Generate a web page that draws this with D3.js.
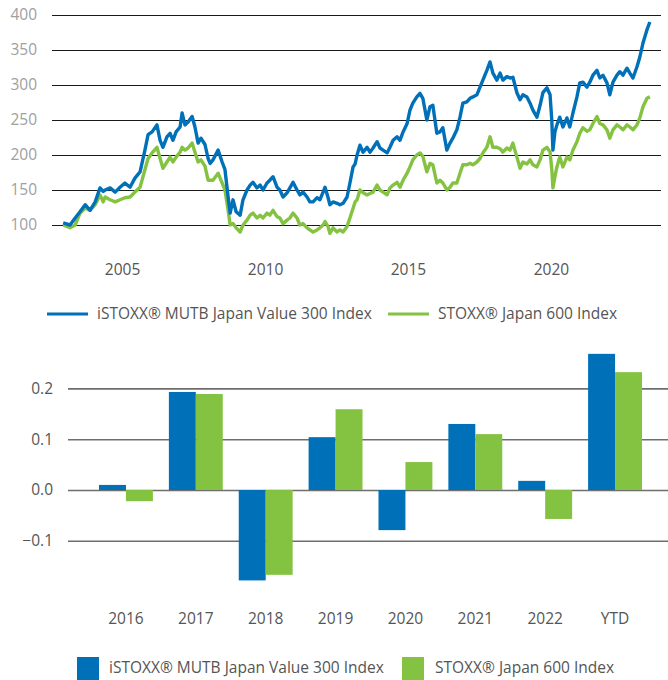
<!DOCTYPE html>
<html>
<head>
<meta charset="utf-8">
<script src="https://cdn.jsdelivr.net/npm/d3@7"></script>
<style>
  body { margin: 0; background: #fff; }
  text { font-family: "Open Sans", sans-serif; }
</style>
</head>
<body>
<div id="chart"></div>
<script>
// names + colours of the two indices
const seriesNames = ["iSTOXX® MUTB Japan Value 300 Index", "STOXX® Japan 600 Index"];
const seriesColors = ["#0070b8", "#84c341"];

// index levels (x = decimal year)
const years = [2002.94, 2003.18, 2003.36, 2003.53, 2003.71, 2003.88, 2004.06, 2004.23, 2004.34, 2004.41,
  2004.58, 2004.76, 2004.93, 2005.10, 2005.28, 2005.45, 2005.63, 2005.80, 2005.91, 2006.05,
  2006.22, 2006.33, 2006.43, 2006.57, 2006.68, 2006.78, 2006.89, 2007.03, 2007.10, 2007.20,
  2007.31, 2007.45, 2007.55, 2007.66, 2007.76, 2007.90, 2008.01, 2008.08, 2008.18, 2008.36,
  2008.50, 2008.60, 2008.71, 2008.78, 2008.88, 2008.99, 2009.13, 2009.23, 2009.37, 2009.48,
  2009.58, 2009.72, 2009.83, 2009.93, 2010.07, 2010.17, 2010.28, 2010.42, 2010.52, 2010.63,
  2010.77, 2010.87, 2010.98, 2011.12, 2011.22, 2011.33, 2011.47, 2011.57, 2011.68, 2011.82,
  2011.92, 2012.03, 2012.10, 2012.20, 2012.27, 2012.38, 2012.52, 2012.62, 2012.73, 2012.87,
  2012.97, 2013.08, 2013.15, 2013.22, 2013.32, 2013.43, 2013.57, 2013.67, 2013.78, 2013.92,
  2014.02, 2014.13, 2014.27, 2014.37, 2014.48, 2014.62, 2014.72, 2014.83, 2014.97, 2015.07,
  2015.17, 2015.31, 2015.42, 2015.52, 2015.66, 2015.77, 2015.87, 2016.01, 2016.12, 2016.22,
  2016.36, 2016.47, 2016.57, 2016.71, 2016.82, 2016.92, 2017.06, 2017.17, 2017.27, 2017.41,
  2017.52, 2017.62, 2017.76, 2017.87, 2017.97, 2018.11, 2018.22, 2018.32, 2018.46, 2018.57,
  2018.67, 2018.81, 2018.92, 2019.02, 2019.16, 2019.27, 2019.37, 2019.51, 2019.62, 2019.72,
  2019.86, 2019.97, 2020.03, 2020.07, 2020.14, 2020.21, 2020.31, 2020.42, 2020.56, 2020.66,
  2020.77, 2020.91, 2021.01, 2021.12, 2021.26, 2021.36, 2021.47, 2021.61, 2021.71, 2021.82,
  2021.96, 2022.06, 2022.17, 2022.31, 2022.41, 2022.52, 2022.66, 2022.76, 2022.87, 2023.01,
  2023.11, 2023.22, 2023.36, 2023.46];

const valueIndex = [103, 100, 110, 119, 129, 121, 133, 153, 148, 150,
  153, 147, 154, 160, 154, 167, 176, 207, 229, 233,
  243, 221, 211, 226, 231, 221, 233, 240, 260, 243,
  247, 255, 240, 217, 224, 215, 195, 188, 193, 207,
  190, 179, 140, 117, 136, 119, 114, 136, 150, 157,
  161, 153, 157, 150, 160, 164, 169, 154, 150, 140,
  146, 153, 161, 150, 143, 147, 140, 133, 133, 139,
  136, 147, 154, 140, 129, 133, 131, 129, 131, 140,
  160, 183, 187, 200, 214, 204, 211, 204, 210, 219,
  210, 207, 203, 211, 221, 226, 221, 233, 245, 264,
  274, 283, 288, 281, 250, 269, 271, 231, 233, 239,
  207, 217, 224, 236, 254, 274, 276, 281, 283, 286,
  297, 307, 321, 333, 317, 307, 317, 307, 312, 310,
  311, 289, 279, 286, 283, 274, 264, 254, 271, 289,
  296, 286, 250, 207, 233, 243, 254, 240, 253, 240,
  260, 283, 303, 304, 297, 304, 314, 321, 310, 314,
  303, 286, 304, 314, 319, 314, 324, 317, 310, 326,
  340, 360, 379, 390];

const japan600 = [100, 96, 100, 117, 124, 121, 129, 143, 133, 140,
  136, 133, 136, 139, 140, 147, 154, 179, 195, 203,
  211, 195, 181, 190, 197, 190, 197, 204, 211, 207,
  210, 217, 204, 190, 193, 184, 164, 164, 164, 174,
  160, 150, 121, 100, 102, 96, 90, 100, 107, 114,
  117, 110, 114, 110, 117, 114, 121, 112, 110, 102,
  107, 110, 117, 110, 100, 102, 96, 93, 90, 93,
  96, 100, 105, 98, 88, 96, 90, 93, 90, 98,
  110, 124, 133, 136, 150, 146, 143, 145, 147, 157,
  150, 147, 143, 153, 157, 161, 154, 164, 174, 183,
  193, 200, 203, 198, 176, 188, 186, 160, 164, 160,
  150, 154, 160, 160, 174, 186, 186, 188, 186, 190,
  195, 203, 211, 226, 211, 211, 209, 204, 210, 207,
  217, 197, 181, 190, 187, 193, 186, 183, 193, 207,
  211, 204, 180, 153, 169, 183, 197, 183, 197, 193,
  207, 219, 231, 239, 234, 236, 245, 255, 245, 243,
  236, 224, 236, 243, 240, 236, 243, 240, 236, 243,
  253, 269, 281, 283];

const lineYTicks = [100, 150, 200, 250, 300, 350, 400];
const lineXTicks = [2005, 2010, 2015, 2020];

// calendar year returns
const periods = ["2016", "2017", "2018", "2019", "2020", "2021", "2022", "YTD"];
const returnsValue = [0.010, 0.193, -0.178, 0.104, -0.079, 0.130, 0.018, 0.268];
const returns600 = [-0.022, 0.189, -0.167, 0.159, 0.055, 0.110, -0.057, 0.232];
const barYTicks = [-0.1, 0.0, 0.1, 0.2];

const W = 668, H = 680;
const fontSize = "15.5px";

const svg = d3.select("#chart")
    .append("svg")
    .attr("width", W)
    .attr("height", H);

// ---------- top: index level lines ----------
const xLine = d3.scaleLinear()
    .domain([2002.55, 2023.85])
    .range([52, 661]);

const yLine = d3.scaleLinear()
    .domain([70, 400])
    .range([246, 15]);

const gLine = svg.append("g");

// horizontal grid
gLine.append("g")
    .attr("transform", "translate(52,0)")
    .call(d3.axisLeft(yLine).tickValues(lineYTicks).tickSize(-(661 - 52)).tickFormat(""))
    .call(g => g.select(".domain").remove())
    .call(g => g.selectAll(".tick line").attr("stroke", "#1a1a1a").attr("stroke-width", 1.2));

// y labels
gLine.append("g")
    .attr("transform", "translate(37,0)")
    .call(d3.axisLeft(yLine).tickValues(lineYTicks).tickSize(0).tickPadding(0))
    .call(g => g.select(".domain").remove())
    .call(g => g.selectAll("text")
        .style("font-family", "'Open Sans', sans-serif")
        .style("font-size", fontSize)
        .attr("fill", "#a0a0a0"));

// x labels
gLine.append("g")
    .attr("transform", "translate(0,261)")
    .call(d3.axisBottom(xLine).tickValues(lineXTicks).tickSize(0).tickFormat(d3.format("d")))
    .call(g => g.select(".domain").remove())
    .call(g => g.selectAll("text")
        .style("font-family", "'Open Sans', sans-serif")
        .style("font-size", fontSize)
        .attr("fill", "#555"));

const line = d3.line()
    .x((d, i) => xLine(years[i]))
    .y(d => yLine(d));

// green first so blue sits on top
[japan600, valueIndex].forEach((vals, k) => {
    gLine.append("path")
        .datum(vals)
        .attr("fill", "none")
        .attr("stroke", seriesColors[1 - k])
        .attr("stroke-width", 3.4)
        .attr("stroke-linejoin", "round")
        .attr("d", line);
});

// top legend (lines)
const legendTop = [
    {x: 47, tx: 97},
    {x: 388, tx: 438}
];
legendTop.forEach((p, i) => {
    svg.append("line")
        .attr("x1", p.x).attr("x2", p.x + 41)
        .attr("y1", 314).attr("y2", 314)
        .attr("stroke", seriesColors[i])
        .attr("stroke-width", 3);
    svg.append("text")
        .attr("x", p.tx)
        .attr("y", 314)
        .attr("dy", "0.35em")
        .style("font-size", fontSize)
        .attr("fill", "#555")
        .text(seriesNames[i]);
});

// ---------- bottom: yearly returns bars ----------
const xBar = d3.scaleBand()
    .domain(periods)
    .range([99, 642])
    .paddingInner(0.2286)
    .paddingOuter(0);

const xSub = d3.scaleBand()
    .domain([0, 1])
    .range([0, xBar.bandwidth()]);

const yBar = d3.scaleLinear()
    .domain([-0.2, 0.3])
    .range([591.6, 337.6]);

const gBar = svg.append("g");

gBar.append("g")
    .attr("transform", "translate(68,0)")
    .call(d3.axisLeft(yBar).tickValues(barYTicks).tickSize(-(668 - 68)).tickFormat(""))
    .call(g => g.select(".domain").remove())
    .call(g => g.selectAll(".tick line").attr("stroke", "#6e6e6e").attr("stroke-width", 1.6));

gBar.append("g")
    .attr("transform", "translate(53,0)")
    .call(d3.axisLeft(yBar).tickValues(barYTicks).tickSize(0).tickPadding(0).tickFormat(d3.format(".1f")))
    .call(g => g.select(".domain").remove())
    .call(g => g.selectAll("text")
        .style("font-family", "'Open Sans', sans-serif")
        .style("font-size", fontSize)
        .attr("fill", "#555"));

gBar.append("g")
    .attr("transform", "translate(0,610)")
    .call(d3.axisBottom(xBar).tickSize(0))
    .call(g => g.select(".domain").remove())
    .call(g => g.selectAll("text")
        .style("font-family", "'Open Sans', sans-serif")
        .style("font-size", fontSize)
        .attr("fill", "#555"));

const barRows = periods.map((p, i) => ({p: p, vals: [returnsValue[i], returns600[i]]}));

gBar.selectAll(".grp")
    .data(barRows)
    .join("g")
    .attr("class", "grp")
    .attr("transform", d => `translate(${xBar(d.p)},0)`)
    .selectAll("rect")
    .data(d => d.vals.map((v, k) => ({v: v, k: k})))
    .join("rect")
    .attr("x", d => xSub(d.k))
    .attr("y", d => yBar(Math.max(0, d.v)))
    .attr("width", xSub.bandwidth())
    .attr("height", d => Math.abs(yBar(d.v) - yBar(0)))
    .attr("fill", d => seriesColors[d.k]);

// bottom legend (squares)
const legendBottom = [
    {x: 77, tx: 109},
    {x: 402, tx: 435}
];
legendBottom.forEach((p, i) => {
    svg.append("rect")
        .attr("x", p.x).attr("y", 657)
        .attr("width", 22).attr("height", 23)
        .attr("fill", seriesColors[i]);
    svg.append("text")
        .attr("x", p.tx)
        .attr("y", 668)
        .attr("dy", "0.35em")
        .style("font-size", fontSize)
        .attr("fill", "#555")
        .text(seriesNames[i]);
});
</script>
</body>
</html>
